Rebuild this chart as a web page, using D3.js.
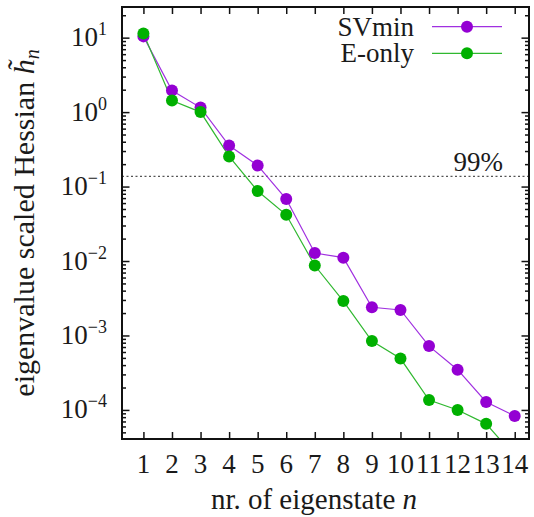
<!DOCTYPE html>
<html>
<head>
<meta charset="utf-8">
<script src="https://cdn.jsdelivr.net/npm/d3@7"></script>
<style>
  body { margin: 0; background: #fff; }
  svg text { font-family: "Liberation Serif", "DejaVu Serif", serif; fill: #1a1a1a; }
</style>
</head>
<body>
<svg id="chart" width="534" height="517"></svg>
<script>
// eigenstate index and eigenvalues
var states = [1, 2, 3, 4, 5, 6, 7, 8, 9, 10, 11, 12, 13, 14];
var svmin = [10.4, 1.95, 1.15, 0.356, 0.192, 0.068, 0.0128, 0.0111, 0.00239, 0.0022, 0.00072, 0.000347, 0.000128, 0.000083];
var eonly = [11.4, 1.43, 1.0, 0.254, 0.087, 0.0418, 0.0087, 0.0029, 0.00084, 0.00049, 0.000136, 0.0001, 0.000065, 0.000024];
var seriesNames = ["SVmin", "E-only"];
var seriesColors = ["#9400d3", "#00b000"];
var lineColors = ["#a030e0", "#30b830"];
var yTickExps = [1, 0, -1, -2, -3, -4];
var threshold = 0.137;
var thresholdLabel = "99%";

var svg = d3.select("#chart");
var pLeft = 122, pRight = 529, pTop = 7, pBottom = 439;
var fs = 27, fsSmall = 18;

var x = d3.scaleLinear().domain([0.25, 14.5]).range([pLeft, pRight]);
var y = d3.scaleLog().domain([4.07e-5, 25.8]).range([pBottom, pTop]);

svg.append("clipPath").attr("id", "plotclip")
  .append("rect")
  .attr("x", pLeft).attr("y", pTop)
  .attr("width", pRight - pLeft).attr("height", pBottom - pTop);

// threshold line
svg.append("line")
  .attr("x1", pLeft).attr("x2", pRight)
  .attr("y1", y(threshold)).attr("y2", y(threshold))
  .attr("stroke", "#555")
  .attr("stroke-width", 1.2)
  .attr("stroke-dasharray", "2,2.5");

svg.append("text")
  .attr("x", 503).attr("y", y(threshold) - 5)
  .attr("text-anchor", "end")
  .attr("font-size", fs)
  .text(thresholdLabel);

// data
var data = [svmin, eonly];
var plot = svg.append("g").attr("clip-path", "url(#plotclip)");
var line = d3.line()
  .x(function (d, i) { return x(states[i]); })
  .y(function (d) { return y(d); });

data.forEach(function (vals, k) {
  plot.append("path")
    .datum(vals)
    .attr("d", line)
    .attr("fill", "none")
    .attr("stroke", lineColors[k])
    .attr("stroke-width", 1.2);
});
data.forEach(function (vals, k) {
  plot.selectAll(null)
    .data(vals)
    .enter()
    .append("circle")
    .attr("cx", function (d, i) { return x(states[i]); })
    .attr("cy", function (d) { return y(d); })
    .attr("r", 6)
    .attr("fill", seriesColors[k]);
});

// frame
svg.append("rect")
  .attr("x", pLeft).attr("y", pTop)
  .attr("width", pRight - pLeft).attr("height", pBottom - pTop)
  .attr("fill", "none")
  .attr("stroke", "#111")
  .attr("stroke-width", 2);

// x ticks, inward on bottom and top
var xAxisB = d3.axisBottom(x).tickValues(states).tickSize(-7).tickFormat("");
var xAxisT = d3.axisTop(x).tickValues(states).tickSize(-7).tickFormat("");
var gxb = svg.append("g").attr("transform", "translate(0," + pBottom + ")").call(xAxisB);
var gxt = svg.append("g").attr("transform", "translate(0," + pTop + ")").call(xAxisT);
[gxb, gxt].forEach(function (g) {
  g.select(".domain").remove();
  g.selectAll("line").attr("stroke", "#111").attr("stroke-width", 1.5);
});

svg.selectAll(".xlab")
  .data(states)
  .enter()
  .append("text")
  .attr("class", "xlab")
  .attr("x", function (d) { return x(d); })
  .attr("y", 473)
  .attr("text-anchor", "middle")
  .attr("font-size", fs)
  .text(function (d) { return d; });

// y ticks: majors and minors, on both sides
var majors = yTickExps.map(function (e) { return Math.pow(10, e); });
var minors = [];
for (var e = -5; e <= 1; e++) {
  for (var m = 2; m <= 9; m++) {
    var v = m * Math.pow(10, e);
    if (v >= y.domain()[0] && v <= y.domain()[1]) minors.push(v);
  }
}
function yTicks(axisFn, size, vals, xpos) {
  var g = svg.append("g")
    .attr("transform", "translate(" + xpos + ",0)")
    .call(axisFn(y).tickValues(vals).tickSize(size).tickFormat(""));
  g.select(".domain").remove();
  g.selectAll("line").attr("stroke", "#111").attr("stroke-width", 1.5);
}
yTicks(d3.axisLeft, -7.5, majors, pLeft);
yTicks(d3.axisLeft, -4, minors, pLeft);
yTicks(d3.axisRight, -7.5, majors, pRight);
yTicks(d3.axisRight, -4, minors, pRight);

var ylab = svg.selectAll(".ylab")
  .data(yTickExps)
  .enter()
  .append("text")
  .attr("class", "ylab")
  .attr("x", 107)
  .attr("y", function (d) { return y(Math.pow(10, d)) + 8.5; })
  .attr("text-anchor", "end")
  .attr("font-size", fs);
ylab.append("tspan").text("10");
ylab.append("tspan")
  .attr("dy", -11)
  .attr("font-size", fsSmall)
  .text(function (d) { return d < 0 ? "\u2212" + (-d) : d; });

// legend
seriesNames.forEach(function (name, k) {
  var ly = 26.7 + k * 26.6;
  svg.append("text")
    .attr("x", 414).attr("y", ly + 9)
    .attr("text-anchor", "end")
    .attr("font-size", fs)
    .text(name);
  svg.append("line")
    .attr("x1", 432).attr("x2", 502)
    .attr("y1", ly).attr("y2", ly)
    .attr("stroke", lineColors[k])
    .attr("stroke-width", 1.2);
  svg.append("circle")
    .attr("cx", 467).attr("cy", ly)
    .attr("r", 6)
    .attr("fill", seriesColors[k]);
});

// axis titles
var xt = svg.append("text")
  .attr("x", 314).attr("y", 509)
  .attr("text-anchor", "middle")
  .attr("font-size", 29);
xt.append("tspan").text("nr.  of eigenstate ");
xt.append("tspan").attr("font-style", "italic").text("n");

var yt = svg.append("text")
  .attr("transform", "translate(34,223) rotate(-90)")
  .attr("text-anchor", "middle")
  .attr("font-size", 30);
yt.append("tspan").text("eigenvalue scaled Hessian ");
yt.append("tspan").attr("font-style", "italic").text("h\u0303");
yt.append("tspan").attr("font-style", "italic").attr("font-size", 20).attr("dy", 5).text("n");
</script>
</body>
</html>
